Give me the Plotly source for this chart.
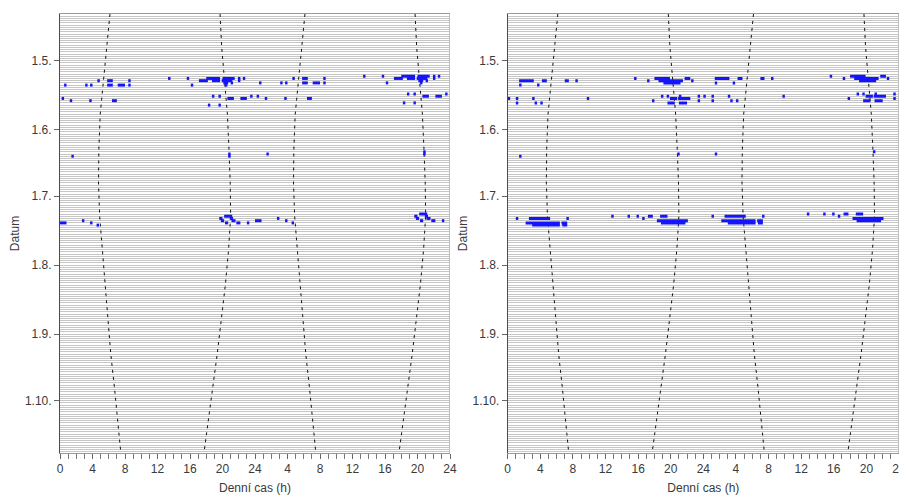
import pandas as pd
import plotly.graph_objects as go

# ---- axis labels ---------------------------------------------------------
HOUR_TICKS = [0, 4, 8, 12, 16, 20, 24, 28, 32, 36, 40, 44, 48]
HOUR_LABELS = ["0", "4", "8", "12", "16", "20", "24", "4", "8", "12", "16", "20", "24"]

DATE_TICKS = ["2015-05-01", "2015-06-01", "2015-07-01", "2015-08-01", "2015-09-01", "2015-10-01"]
DATE_LABELS = ["1.5.", "1.6.", "1.7.", "1.8.", "1.9.", "1.10."]

DATE_FIRST = "2015-04-10"
DATE_LAST = "2015-10-24 13:00"

# ---- sunrise / sunset (local time, hours) --------------------------------
SUN_DATES = ["2015-04-10", "2015-04-25", "2015-05-10", "2015-05-25", "2015-06-10",
             "2015-06-25", "2015-07-10", "2015-07-25", "2015-08-10", "2015-08-25",
             "2015-09-10", "2015-09-25", "2015-10-10", "2015-10-25"]
SUNRISE_H = [6.15, 5.75, 5.30, 4.95, 4.78, 4.74, 4.88, 5.20, 5.55, 5.85,
             6.25, 6.70, 7.10, 7.50]
SUNSET_H = [19.70, 19.90, 20.25, 20.60, 20.80, 20.95, 21.00, 20.75, 20.35, 19.90,
            19.35, 18.80, 18.25, 17.70]

# ---- activity bouts, left actogram ----------------------------------------
LEFT_DATES = (["2015-05-09"] * 6 + ["2015-05-10"] * 7 + ["2015-05-11"] * 2 +
              ["2015-05-12"] * 8 + ["2015-05-17"] * 3 + ["2015-05-18"] * 3 +
              ["2015-05-19"] * 3 + ["2015-05-21"] * 2 +
              ["2015-06-12"] * 1 + ["2015-06-13"] * 2 +
              ["2015-07-10"] * 1 + ["2015-07-11"] * 2 + ["2015-07-12"] * 3 +
              ["2015-07-13"] * 5 + ["2015-07-14"] * 1)
LEFT_START = [13.3, 15.6, 18.0, 20.0, 21.9, 22.5,
              4.6, 5.8, 8.4, 17.1, 18.7, 19.9, 21.9,
              20.1, 21.0,
              0.5, 3.1, 3.7, 5.8, 7.1, 8.4, 16.1, 20.3,
              18.7, 19.5, 23.4,
              0.2, 20.6, 22.2,
              1.2, 3.6, 6.4,
              18.2, 19.5,
              20.7,
              1.4, 20.7,
              20.2,
              19.6, 20.9,
              2.7, 19.8, 21.1,
              0.0, 3.7, 20.3, 21.7, 23.0,
              4.5]
LEFT_END = [13.6, 15.9, 19.7, 21.5, 22.2, 22.8,
            4.9, 6.5, 8.7, 18.2, 19.7, 21.2, 22.2,
            20.7, 21.3,
            0.8, 3.4, 4.0, 6.5, 8.0, 8.7, 16.4, 20.6,
            19.0, 19.8, 23.7,
            0.5, 21.4, 23.0,
            1.5, 3.9, 7.0,
            18.5, 19.8,
            21.0,
            1.7, 21.0,
            21.2,
            20.0, 21.3,
            3.0, 20.2, 21.6,
            0.8, 4.0, 20.7, 22.2, 23.3,
            4.8]

# ---- activity bouts, right actogram ---------------------------------------
RIGHT_DATES = (["2015-05-09"] * 3 + ["2015-05-10"] * 7 + ["2015-05-11"] * 1 +
               ["2015-05-12"] * 2 + ["2015-05-17"] * 4 + ["2015-05-18"] * 6 +
               ["2015-05-19"] * 2 + ["2015-05-20"] * 5 +
               ["2015-06-12"] * 1 + ["2015-06-13"] * 1 +
               ["2015-07-10"] * 5 + ["2015-07-11"] * 4 + ["2015-07-12"] * 1 +
               ["2015-07-13"] * 3 + ["2015-07-14"] * 2)
RIGHT_START = [15.5, 18.0, 21.7,
               1.4, 4.2, 7.0, 8.3, 17.1, 18.5, 22.5,
               19.1,
               1.4, 3.6,
               18.8, 19.5, 21.0, 23.3,
               0.0, 1.0, 3.0, 9.7, 19.9, 20.9,
               17.7, 23.3,
               1.0, 3.3, 4.0, 19.6, 21.0,
               20.8,
               1.4,
               12.7, 14.7, 15.8, 17.2, 18.7,
               1.0, 2.6, 7.2, 16.5,
               18.3,
               2.2, 6.6, 18.8,
               3.0, 6.7]
RIGHT_END = [15.8, 19.9, 22.4,
             3.2, 4.8, 7.5, 8.6, 17.4, 21.5, 22.8,
             21.2,
             1.7, 3.9,
             19.1, 19.8, 21.3, 23.6,
             0.3, 1.3, 3.3, 10.0, 20.8, 22.4,
             18.0, 23.6,
             1.3, 3.6, 4.3, 20.5, 22.0,
             21.1,
             1.7,
             13.0, 15.0, 16.1, 17.8, 19.6,
             1.3, 5.2, 7.5, 16.8,
             22.1,
             6.4, 7.3, 21.8,
             6.4, 7.3]

BOUT_COLOR = "#1414ff"
GRID_COLOR = "#c6c6c6"
FONT = "Arial, Liberation Sans, sans-serif"
TEXT_COLOR = "#3a3a3a"


def bouts_xy(dates, starts, ends, day_shift, hour_shift):
    """Flatten bouts into a broken polyline (None separates segments)."""
    xs, ys = [], []
    for d, s, e in zip(dates, starts, ends):
        y = pd.Timestamp(d) + pd.Timedelta(days=day_shift)
        xs += [s + hour_shift, e + hour_shift, None]
        ys += [y, y, None]
    return xs, ys


fig = go.Figure()

panels = [("x", "y", LEFT_DATES, LEFT_START, LEFT_END),
          ("x2", "y2", RIGHT_DATES, RIGHT_START, RIGHT_END)]

for xa, ya, dates, starts, ends in panels:
    # sunrise / sunset curves, repeated for the second day of the double plot
    for hours in (SUNRISE_H, SUNSET_H):
        for shift in (0, 24):
            fig.add_trace(go.Scatter(
                x=[h + shift for h in hours], y=SUN_DATES, mode="lines",
                line=dict(color="#111111", width=1, dash="3px,4px"),
                xaxis=xa, yaxis=ya, hoverinfo="skip"))
    # activity: day d in the first half, day d+1 in the second half of row d
    x1, y1 = bouts_xy(dates, starts, ends, 0, 0)
    x2, y2 = bouts_xy(dates, starts, ends, -1, 24)
    fig.add_trace(go.Scatter(x=x1 + x2, y=y1 + y2, mode="lines",
                             line=dict(color=BOUT_COLOR, width=3),
                             xaxis=xa, yaxis=ya, connectgaps=False))


def x_axis(domain, anchor):
    return dict(
        domain=domain, anchor=anchor, range=[0, 48],
        tickmode="array", tickvals=HOUR_TICKS, ticktext=HOUR_LABELS,
        ticks="outside", ticklen=5, tickcolor="#666",
        minor=dict(ticks="outside", ticklen=5, tickcolor="#777", dtick=1, tick0=0),
        showgrid=False, zeroline=False, showline=True, linecolor="#9a9a9a",
        mirror=True, automargin=False, ticklabeloverflow="allow",
        tickfont=dict(family=FONT, size=12, color=TEXT_COLOR),
        title=dict(text="Denní cas (h)", standoff=10,
                   font=dict(family=FONT, size=12, color=TEXT_COLOR)))


def y_axis(anchor):
    return dict(
        domain=[1 - 453 / 495, 1 - 14 / 495], anchor=anchor, type="date",
        range=[DATE_LAST, DATE_FIRST],
        tickmode="array", tickvals=DATE_TICKS, ticktext=DATE_LABELS,
        ticks="outside", ticklen=5, tickcolor="#666",
        showgrid=True, gridcolor=GRID_COLOR, gridwidth=1,
        minor=dict(dtick=86400000, tick0=DATE_FIRST, showgrid=True,
                   gridcolor=GRID_COLOR, gridwidth=1),
        zeroline=False, showline=True, linecolor="#4a4a4a", automargin=False,
        tickfont=dict(family=FONT, size=12, color=TEXT_COLOR),
        title=dict(text="Datum", standoff=2,
                   font=dict(family=FONT, size=12, color=TEXT_COLOR)))


fig.update_layout(
    width=899, height=495,
    margin=dict(l=0, r=0, t=0, b=0),
    paper_bgcolor="white", plot_bgcolor="white",
    showlegend=False,
    xaxis=x_axis([60 / 899, 450 / 899], "y"),
    yaxis=y_axis("x"),
    xaxis2=x_axis([507.7 / 899, 1.0], "y2"),
    yaxis2=y_axis("x2"),
)

# light right-hand frame of each actogram
for xr, yr in (("x", "y domain"), ("x2", "y2 domain")):
    fig.add_shape(type="line", xref=xr, yref=yr, x0=48, x1=48, y0=0, y1=1,
                  line=dict(color="#bdbdbd", width=2))

fig.write_html("out.html")
